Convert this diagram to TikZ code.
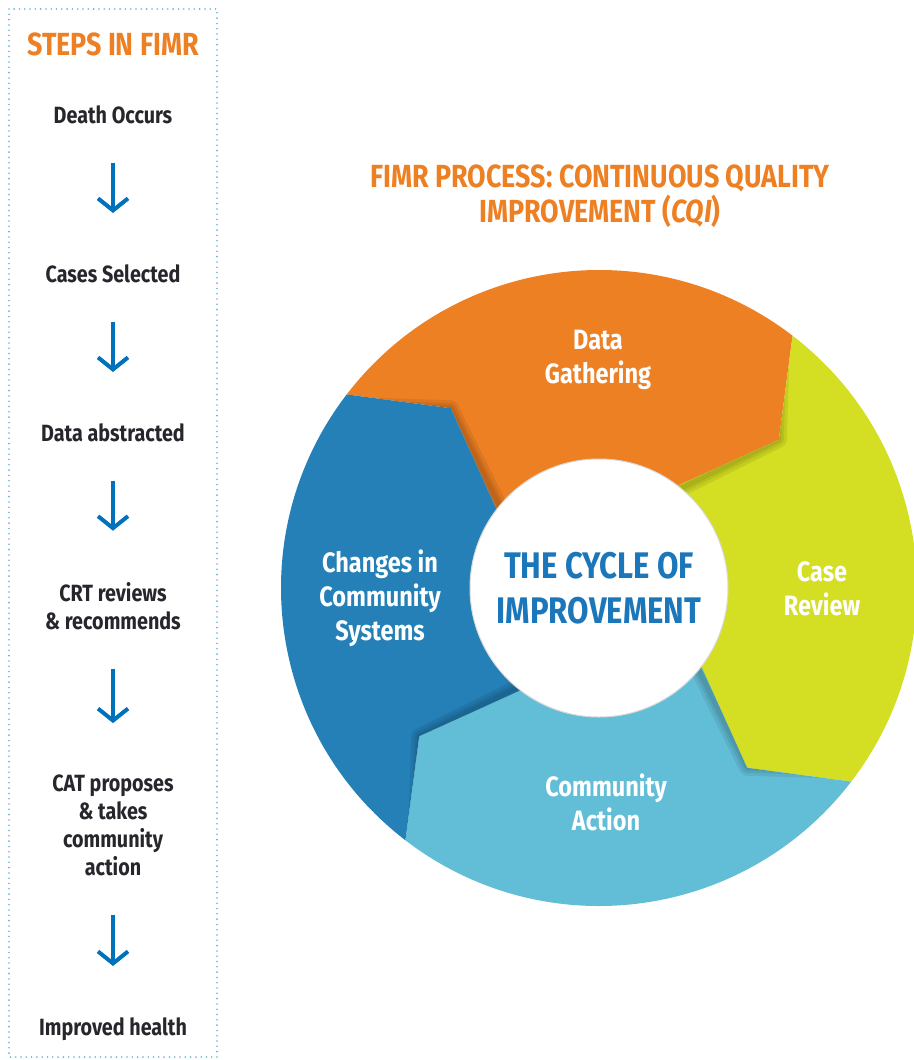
\documentclass[tikz,border=0pt]{standalone}
\usepackage{fontspec}
\setmainfont{Fira Sans}[FakeStretch=0.84]
\usetikzlibrary{arrows.meta,positioning}
\definecolor{fimrorange}{RGB}{238,128,36}
\definecolor{fimrlime}{RGB}{212,222,34}
\definecolor{fimrsky}{RGB}{98,190,214}
\definecolor{fimrblue}{RGB}{36,128,182}
\definecolor{hubblue}{RGB}{27,118,186}
\definecolor{arrowblue}{RGB}{0,114,188}
\definecolor{dotblue}{RGB}{95,182,212}
\definecolor{stepgray}{RGB}{38,38,44}
\tikzset{
  dotframe/.style={draw=dotblue,line width=1.8pt,line cap=round,dash pattern=on 0pt off 5.3pt},
  stephead/.style={font=\bfseries\fontsize{32}{36}\selectfont,text=fimrorange,inner sep=0pt,anchor=base},
  steptext/.style={font=\bfseries\fontsize{23.5}{28}\selectfont,text=stepgray,align=center,inner sep=0pt,anchor=base},
  flowarrow/.style={draw=arrowblue,line width=4pt,-{Straight Barb[length=12pt,width=30pt]},shorten <=39pt,shorten >=51pt},
  titletext/.style={font=\bfseries\fontsize{32}{35}\selectfont,text=fimrorange,align=center,inner sep=0pt,anchor=base},
  wheellabel/.style={font=\bfseries\fontsize{28}{34}\selectfont,text=white,align=center,inner sep=0pt,anchor=base},
  hubtext/.style={font=\bfseries\fontsize{37}{45}\selectfont,text=hubblue,align=center,inner sep=0pt}
}
\begin{document}
\begin{tikzpicture}[x=1pt,y=-1pt]
\useasboundingbox (0,0) rectangle (913,1060);
% steps column
\draw[dotframe] (9,9) rectangle (217,1057);
\node[stephead] (head) at (113,55) {STEPS IN FIMR};
\node[steptext] (s1) at (113,123) {Death Occurs};
\node[steptext] (s2) at (113,282) {Cases Selected};
\node[steptext] (s3) at (113,441) {Data abstracted};
\node[steptext] (s4) at (113,629) {CRT reviews\\\& recommends};
\node[steptext] (s5) at (113,875) {CAT proposes\\\& takes\\community\\action};
\node[steptext] (s6) at (113,1035) {Improved health};
\foreach \a/\b in {s1/s2,s2/s3,s3/s4,s4/s5,s5/s6}
  \draw[flowarrow] (\a.south) -- (\b.north);
% title
\node[titletext] (title) at (600,222) {FIMR PROCESS: CONTINUOUS QUALITY\\IMPROVEMENT (\textit{CQI})};
% the wheel
\begin{scope}[shift={(599,588)},y=1pt]
\foreach \col [count=\k from 0] in {fimrorange,fimrlime,fimrsky,fimrblue}{
  \pgfmathsetmacro\bs{142.5-90*\k}
  \pgfmathsetmacro\be{\bs-90}
  \begin{scope}
    \clip (\bs:318) arc[start angle=\bs,end angle=\be,radius=318pt] -- (\be-13:233) -- (\be:129)
      arc[start angle=\be,end angle=\bs,radius=129pt] -- (\bs-13:233) -- cycle;
    \fill[\col] (-330,-330) rectangle (330,330);
    \foreach \w in {16,10,5}
      \draw[black,opacity=.07,line width=\w pt,line join=round] (\bs:300) -- (\bs-13:233) -- (\bs:120);
  \end{scope}
}
\fill[white,draw=black!15,line width=1pt] (0,0) circle[radius=129pt];
\node[hubtext] (hub) at (0,0) {THE CYCLE OF\\IMPROVEMENT};
\end{scope}
\node[wheellabel] (gather) at (598,383) {Data\\Gathering};
\node[wheellabel] (review) at (822,615) {Case\\Review};
\node[wheellabel] (action) at (606,830) {Community\\Action};
\node[wheellabel] (change) at (380,640) {Changes in\\Community\\Systems};
\end{tikzpicture}
\end{document}
